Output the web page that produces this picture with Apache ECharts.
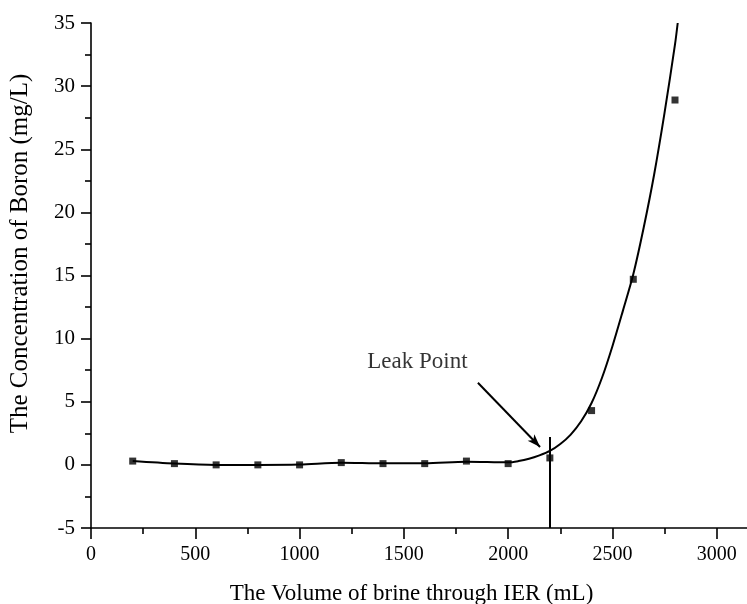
<!DOCTYPE html>
<html>
<head>
<meta charset="utf-8">
<script src="https://cdn.jsdelivr.net/npm/echarts@6/dist/echarts.min.js"></script>
<style>
html,body{margin:0;padding:0;background:#fff;}
#chart{width:747px;height:604px;}
</style>
</head>
<body>
<div id="chart"></div>
<script>
// Measured data points
const volume = [200, 400, 600, 800, 1000, 1200, 1400, 1600, 1800, 2000, 2200, 2400, 2600, 2800];
const boron = [0.3, 0.1, 0.0, 0.0, 0.0, 0.18, 0.1, 0.1, 0.3, 0.1, 0.55, 4.3, 14.7, 28.9];

// Fitted curve
const fitX = [200, 400, 600, 800, 1000, 1200, 1400, 1600, 1800, 2000, 2050, 2100, 2150, 2200, 2250, 2300, 2350, 2400, 2450, 2500, 2550, 2600, 2650, 2700, 2750, 2800, 2813];
const fitY = [0.3, 0.1, 0.0, 0.0, 0.03, 0.17, 0.12, 0.12, 0.25, 0.2, 0.3, 0.48, 0.75, 1.1, 1.65, 2.4, 3.45, 4.9, 6.9, 9.4, 12.2, 15.1, 18.8, 23.0, 27.9, 33.3, 35];

// Leak point annotation
const leakX = 2200;
const leakLine = [-5, 2.2];
const arrowFrom = [1855, 6.5];
const arrowTo = [2153, 1.42];
const leakLabelPos = [1565, 8.15];
const leakLabel = 'Leak Point';

const xTitle = 'The Volume of brine through IER (mL)';
const yTitle = 'The Concentration of Boron (mg/L)';

const font = '"Liberation Serif", "Times New Roman", serif';

const chart = echarts.init(document.getElementById('chart'));
chart.setOption({
  animation: false,
  backgroundColor: '#fff',
  grid: {left: 91, right: -1, top: 23, bottom: 76, containLabel: false, outerBoundsMode: 'none'},
  xAxis: {
    type: 'value', min: 0, max: 3150, interval: 500,
    name: xTitle, nameLocation: 'middle', nameGap: 54,
    nameTextStyle: {fontFamily: font, fontSize: 23, color: '#000', padding: [0, 16, 0, 0]},
    axisLine: {show: true, onZero: false, lineStyle: {color: '#000', width: 1.6}},
    axisTick: {show: true, inside: false, length: 11, lineStyle: {color: '#000', width: 1.6}},
    minorTick: {show: true, splitNumber: 2, length: 6, lineStyle: {color: '#000', width: 1.6}},
    axisLabel: {fontFamily: font, fontSize: 20, color: '#000', margin: 17, showMaxLabel: false,
      formatter: v => (v % 500 === 0 ? String(v) : '')},
    splitLine: {show: false}
  },
  yAxis: {
    type: 'value', min: -5, max: 35, interval: 5,
    name: yTitle, nameLocation: 'middle', nameGap: 58, nameRotate: 90,
    nameTextStyle: {fontFamily: font, fontSize: 25, color: '#000', padding: [0, 0, 0, 44]},
    axisLine: {show: true, onZero: false, lineStyle: {color: '#000', width: 1.6}},
    axisTick: {show: true, inside: false, length: 10, lineStyle: {color: '#000', width: 1.6}},
    minorTick: {show: true, splitNumber: 2, length: 6, lineStyle: {color: '#000', width: 1.6}},
    axisLabel: {fontFamily: font, fontSize: 21, color: '#000', margin: 16},
    splitLine: {show: false}
  },
  series: [
    {
      type: 'line', name: 'fit', smooth: 0.3, showSymbol: false, symbol: 'none',
      data: fitX.map((x, i) => [x, fitY[i]]),
      lineStyle: {color: '#000', width: 2}, clip: true, z: 2
    },
    {
      type: 'scatter', name: 'data', symbol: 'rect', symbolSize: 7,
      data: volume.map((x, i) => [x, boron[i]]),
      itemStyle: {color: '#000'}, z: 3,
      markLine: {
        silent: true, animation: false,
        label: {show: false},
        data: [
          [{coord: [leakX, leakLine[0]], symbol: 'none'}, {coord: [leakX, leakLine[1]], symbol: 'none'}],
          [{coord: arrowFrom, symbol: 'none'}, {coord: arrowTo, symbol: 'arrow', symbolSize: [7, 13]}]
        ],
        lineStyle: {color: '#000', width: 2, type: 'solid'}
      }
    },
    {
      type: 'scatter', name: 'label', symbolSize: 0,
      data: [leakLabelPos],
      label: {show: true, position: 'inside', formatter: leakLabel,
        fontFamily: font, fontSize: 23, color: '#000'},
      silent: true
    }
  ]
});
</script>
</body>
</html>
